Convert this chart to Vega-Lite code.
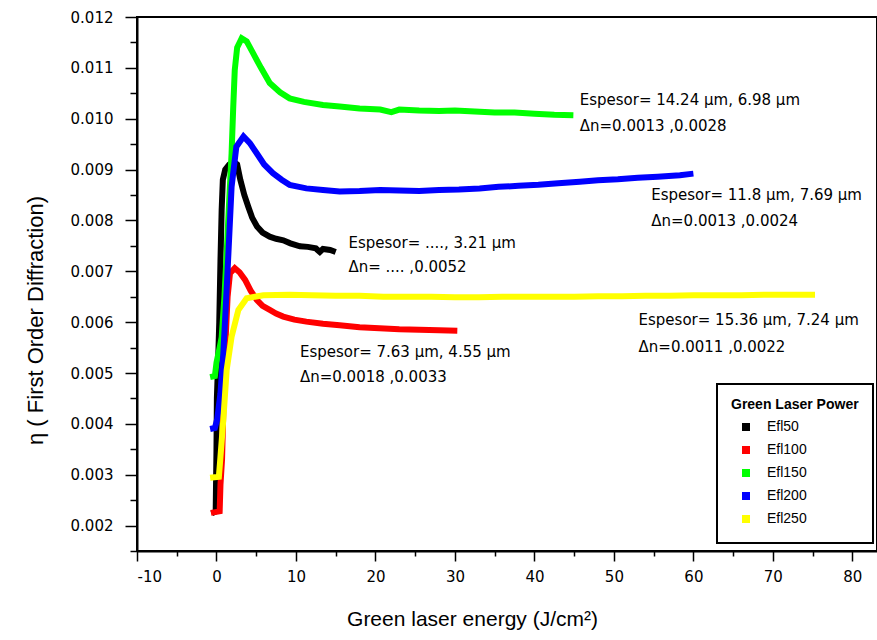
{
  "$schema": "https://vega.github.io/schema/vega-lite/v6.json",
  "width": 740,
  "height": 534,
  "autosize": {"type": "none"},
  "padding": {"left": 137, "top": 17, "right": 0, "bottom": 89},
  "background": "white",
  "config": {
    "view": {"stroke": "black", "strokeWidth": 2},
    "font": "Liberation Sans"
  },
  "datasets": {
    "curves": [
      {"s":"Efl50","x":-0.6,"y":0.00224},{"s":"Efl50","x":-0.1,"y":0.00228},{"s":"Efl50","x":0.0,"y":0.0035},{"s":"Efl50","x":0.05,"y":0.0045},{"s":"Efl50","x":0.2,"y":0.0052},{"s":"Efl50","x":0.35,"y":0.006},{"s":"Efl50","x":0.5,"y":0.0072},{"s":"Efl50","x":0.65,"y":0.0082},{"s":"Efl50","x":0.8,"y":0.0088},{"s":"Efl50","x":1.1,"y":0.009},{"s":"Efl50","x":1.6,"y":0.0091},{"s":"Efl50","x":2.2,"y":0.00915},{"s":"Efl50","x":2.6,"y":0.0091},{"s":"Efl50","x":3.0,"y":0.0088},{"s":"Efl50","x":3.5,"y":0.0085},{"s":"Efl50","x":4.0,"y":0.00827},{"s":"Efl50","x":4.5,"y":0.00805},{"s":"Efl50","x":5.1,"y":0.00788},{"s":"Efl50","x":5.8,"y":0.00776},{"s":"Efl50","x":6.7,"y":0.00768},{"s":"Efl50","x":7.5,"y":0.00764},{"s":"Efl50","x":8.4,"y":0.00761},{"s":"Efl50","x":9.3,"y":0.00755},{"s":"Efl50","x":10.5,"y":0.00749},{"s":"Efl50","x":11.5,"y":0.00748},{"s":"Efl50","x":12.5,"y":0.00745},{"s":"Efl50","x":13.0,"y":0.00738},{"s":"Efl50","x":13.4,"y":0.00744},{"s":"Efl50","x":14.3,"y":0.00742},{"s":"Efl50","x":15.0,"y":0.00738},
      {"s":"Efl100","x":-0.7,"y":0.00225},{"s":"Efl100","x":0.4,"y":0.00228},{"s":"Efl100","x":0.5,"y":0.0028},{"s":"Efl100","x":0.7,"y":0.0033},{"s":"Efl100","x":0.9,"y":0.0045},{"s":"Efl100","x":1.1,"y":0.0055},{"s":"Efl100","x":1.4,"y":0.0065},{"s":"Efl100","x":1.7,"y":0.00696},{"s":"Efl100","x":2.3,"y":0.00706},{"s":"Efl100","x":2.9,"y":0.00698},{"s":"Efl100","x":3.6,"y":0.00683},{"s":"Efl100","x":4.3,"y":0.00662},{"s":"Efl100","x":5.06,"y":0.00644},{"s":"Efl100","x":5.8,"y":0.00632},{"s":"Efl100","x":6.7,"y":0.00624},{"s":"Efl100","x":7.5,"y":0.00617},{"s":"Efl100","x":8.4,"y":0.00611},{"s":"Efl100","x":9.8,"y":0.00605},{"s":"Efl100","x":11.3,"y":0.00601},{"s":"Efl100","x":13.4,"y":0.00597},{"s":"Efl100","x":15.5,"y":0.00594},{"s":"Efl100","x":18,"y":0.0059},{"s":"Efl100","x":20.5,"y":0.00588},{"s":"Efl100","x":23,"y":0.00586},{"s":"Efl100","x":25.5,"y":0.00585},{"s":"Efl100","x":28,"y":0.00584},{"s":"Efl100","x":30.3,"y":0.00583},
      {"s":"Efl150","x":-0.8,"y":0.00492},{"s":"Efl150","x":-0.2,"y":0.00494},{"s":"Efl150","x":0.0,"y":0.0052},{"s":"Efl150","x":0.4,"y":0.0055},{"s":"Efl150","x":0.65,"y":0.0057},{"s":"Efl150","x":1.0,"y":0.0065},{"s":"Efl150","x":1.28,"y":0.00735},{"s":"Efl150","x":1.6,"y":0.0084},{"s":"Efl150","x":1.9,"y":0.00932},{"s":"Efl150","x":2.1,"y":0.0102},{"s":"Efl150","x":2.3,"y":0.01096},{"s":"Efl150","x":2.6,"y":0.0114},{"s":"Efl150","x":3.17,"y":0.01158},{"s":"Efl150","x":3.8,"y":0.01152},{"s":"Efl150","x":4.6,"y":0.01129},{"s":"Efl150","x":5.6,"y":0.011},{"s":"Efl150","x":6.7,"y":0.0107},{"s":"Efl150","x":8.0,"y":0.01052},{"s":"Efl150","x":9.2,"y":0.0104},{"s":"Efl150","x":11,"y":0.01033},{"s":"Efl150","x":13.4,"y":0.01027},{"s":"Efl150","x":15.5,"y":0.01024},{"s":"Efl150","x":18,"y":0.0102},{"s":"Efl150","x":20.6,"y":0.01018},{"s":"Efl150","x":22,"y":0.01013},{"s":"Efl150","x":23,"y":0.01018},{"s":"Efl150","x":25.5,"y":0.01016},{"s":"Efl150","x":28,"y":0.01015},{"s":"Efl150","x":30,"y":0.01016},{"s":"Efl150","x":32.5,"y":0.01014},{"s":"Efl150","x":35,"y":0.01012},{"s":"Efl150","x":37.5,"y":0.01012},{"s":"Efl150","x":40,"y":0.0101},{"s":"Efl150","x":42.5,"y":0.01008},{"s":"Efl150","x":44.9,"y":0.01007},
      {"s":"Efl200","x":-0.8,"y":0.0039},{"s":"Efl200","x":-0.2,"y":0.00392},{"s":"Efl200","x":0.1,"y":0.0041},{"s":"Efl200","x":0.5,"y":0.0046},{"s":"Efl200","x":0.86,"y":0.00539},{"s":"Efl200","x":1.2,"y":0.0064},{"s":"Efl200","x":1.5,"y":0.00735},{"s":"Efl200","x":1.9,"y":0.00866},{"s":"Efl200","x":2.5,"y":0.00945},{"s":"Efl200","x":3.4,"y":0.00965},{"s":"Efl200","x":4.2,"y":0.00952},{"s":"Efl200","x":5.06,"y":0.00932},{"s":"Efl200","x":6,"y":0.0091},{"s":"Efl200","x":7.1,"y":0.00893},{"s":"Efl200","x":8.2,"y":0.0088},{"s":"Efl200","x":9.2,"y":0.0087},{"s":"Efl200","x":11.3,"y":0.00863},{"s":"Efl200","x":13.4,"y":0.0086},{"s":"Efl200","x":15.5,"y":0.00857},{"s":"Efl200","x":18,"y":0.00858},{"s":"Efl200","x":20.6,"y":0.0086},{"s":"Efl200","x":23,"y":0.00859},{"s":"Efl200","x":25.5,"y":0.00858},{"s":"Efl200","x":28,"y":0.0086},{"s":"Efl200","x":30.5,"y":0.00861},{"s":"Efl200","x":33.1,"y":0.00863},{"s":"Efl200","x":35.5,"y":0.00866},{"s":"Efl200","x":38,"y":0.00868},{"s":"Efl200","x":40.5,"y":0.0087},{"s":"Efl200","x":43,"y":0.00873},{"s":"Efl200","x":45.7,"y":0.00876},{"s":"Efl200","x":48,"y":0.00879},{"s":"Efl200","x":50.5,"y":0.00881},{"s":"Efl200","x":53,"y":0.00884},{"s":"Efl200","x":55.5,"y":0.00886},{"s":"Efl200","x":58.3,"y":0.00889},{"s":"Efl200","x":60,"y":0.00892},
      {"s":"Efl250","x":-0.8,"y":0.00294},{"s":"Efl250","x":0.3,"y":0.00296},{"s":"Efl250","x":0.44,"y":0.00323},{"s":"Efl250","x":0.86,"y":0.00408},{"s":"Efl250","x":1.28,"y":0.00506},{"s":"Efl250","x":1.9,"y":0.00571},{"s":"Efl250","x":2.75,"y":0.00624},{"s":"Efl250","x":3.8,"y":0.00647},{"s":"Efl250","x":5.9,"y":0.00653},{"s":"Efl250","x":9.2,"y":0.00654},{"s":"Efl250","x":12,"y":0.00653},{"s":"Efl250","x":15,"y":0.00652},{"s":"Efl250","x":18,"y":0.00652},{"s":"Efl250","x":21,"y":0.0065},{"s":"Efl250","x":24,"y":0.0065},{"s":"Efl250","x":27,"y":0.0065},{"s":"Efl250","x":30,"y":0.00649},{"s":"Efl250","x":33,"y":0.00649},{"s":"Efl250","x":36,"y":0.0065},{"s":"Efl250","x":39,"y":0.0065},{"s":"Efl250","x":42,"y":0.0065},{"s":"Efl250","x":45,"y":0.0065},{"s":"Efl250","x":48,"y":0.00651},{"s":"Efl250","x":51,"y":0.00651},{"s":"Efl250","x":54,"y":0.00652},{"s":"Efl250","x":57,"y":0.00652},{"s":"Efl250","x":60,"y":0.00653},{"s":"Efl250","x":63,"y":0.00653},{"s":"Efl250","x":66,"y":0.00653},{"s":"Efl250","x":69,"y":0.00654},{"s":"Efl250","x":72,"y":0.00654},{"s":"Efl250","x":75.3,"y":0.00654}
    ],
    "notes": [
      {"x":45.7,"y":0.01037,"label":"Espesor= 14.24 μm, 6.98 μm"},
      {"x":45.7,"y":0.00986,"label":"Δn=0.0013 ,0.0028"},
      {"x":54.7,"y":0.0085,"label":"Espesor= 11.8 μm, 7.69 μm"},
      {"x":54.7,"y":0.00798,"label":"Δn=0.0013 ,0.0024"},
      {"x":16.6,"y":0.00755,"label":"Espesor= ...., 3.21 μm"},
      {"x":16.6,"y":0.00709,"label":"Δn= .... ,0.0052"},
      {"x":53.1,"y":0.00604,"label":"Espesor= 15.36 μm, 7.24 μm"},
      {"x":53.1,"y":0.00552,"label":"Δn=0.0011 ,0.0022"},
      {"x":10.5,"y":0.00542,"label":"Espesor= 7.63 μm, 4.55 μm"},
      {"x":10.5,"y":0.00493,"label":"Δn=0.0018 ,0.0033"}
    ]
  },
  "resolve": {"axis": {"y": "independent"}},
  "layer": [
    {
      "data": {"name": "curves"},
      "mark": {"type": "line", "strokeWidth": 6, "clip": true},
      "encoding": {
        "x": {
          "field": "x", "type": "quantitative",
          "scale": {"domain": [-10, 83.1], "nice": false, "zero": false},
          "axis": {
            "values": [-10,-5,0,5,10,15,20,25,30,35,40,45,50,55,60,65,70,75,80],
            "labelExpr": "datum.value % 10 === 0 ? '' + datum.value : ''",
            "tickSize": {"condition": {"test": "datum.value % 10 === 0", "value": 10}, "value": 5},
            "grid": false,
            "domainColor": "black", "domainWidth": 2,
            "tickColor": "black", "tickWidth": 1.5,
            "labelFont": "DejaVu Sans", "labelFontSize": 15, "labelColor": "black",
            "labelPadding": 8,
            "title": "Green laser energy (J/cm²)",
            "titleFont": "Liberation Sans", "titleFontSize": 21, "titleFontWeight": "normal", "titleColor": "black",
            "titleX": 335, "titleY": 74, "titleAlign": "center", "titleBaseline": "alphabetic"
          }
        },
        "y": {
          "field": "y", "type": "quantitative",
          "scale": {"domain": [0.0015, 0.012], "nice": false, "zero": false},
          "axis": {
            "orient": "left",
            "values": [0.002,0.003,0.004,0.005,0.006,0.007,0.008,0.009,0.01,0.011,0.012],
            "format": ".3f",
            "tickSize": 12,
            "grid": false,
            "labelOverlap": false,
            "domainColor": "black", "domainWidth": 2,
            "tickColor": "black", "tickWidth": 1.5,
            "labelFont": "DejaVu Sans", "labelFontSize": 15, "labelColor": "black",
            "labelPadding": 12,
            "title": "η   ( First Order Diffraction)",
            "titleFont": "Liberation Sans", "titleFontSize": 22, "titleFontWeight": "normal", "titleColor": "black",
            "titleX": -102, "titleY": 303, "titleAngle": -90, "titleAlign": "center", "titleBaseline": "middle"
          }
        },
        "color": {
          "field": "s", "type": "nominal",
          "scale": {"domain": ["Efl50","Efl100","Efl150","Efl200","Efl250"], "range": ["#000000","#ff0000","#00ff00","#0000ff","#ffff00"]},
          "legend": {
            "title": "Green Laser Power",
            "orient": "none", "legendX": 580, "legendY": 367,
            "strokeColor": "black",
            "padding": 14, "fillColor": "white",
            "titleFont": "Liberation Sans", "titleFontSize": 14, "titleFontWeight": "bold", "titleColor": "black", "titlePadding": 8,
            "labelFont": "Liberation Sans", "labelFontSize": 14, "labelColor": "black", "labelOffset": 14,
            "symbolType": "square", "symbolSize": 16, "symbolStrokeWidth": 4, "symbolOffset": 8,
            "rowPadding": 3,
            "encode": {"legend": {"update": {"strokeWidth": {"value": 2}}}}
          }
        }
      }
    },
    {
      "data": {"name": "notes"},
      "mark": {"type": "text", "align": "left", "baseline": "middle", "font": "DejaVu Sans", "fontSize": 15, "color": "black"},
      "encoding": {
        "x": {"field": "x", "type": "quantitative"},
        "y": {
          "field": "y", "type": "quantitative",
          "axis": {
            "orient": "left",
            "values": [0.0015,0.0025,0.0035,0.0045,0.0055,0.0065,0.0075,0.0085,0.0095,0.0105,0.0115],
            "labels": false, "domain": false, "grid": false, "title": null,
            "tickSize": 7, "tickColor": "black", "tickWidth": 1.5
          }
        },
        "text": {"field": "label"}
      }
    }
  ]
}
